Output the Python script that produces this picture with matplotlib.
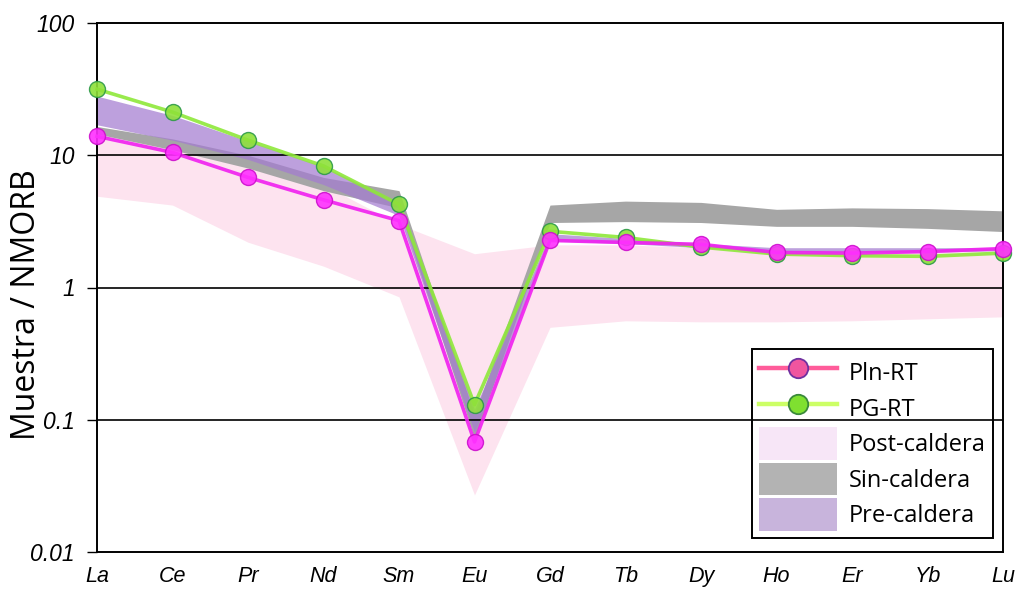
import matplotlib
matplotlib.use('Agg')
import matplotlib.pyplot as plt
import numpy as np
from matplotlib.lines import Line2D
from matplotlib.patches import Patch

# REE normalised to NMORB
elements = ['La', 'Ce', 'Pr', 'Nd', 'Sm', 'Eu', 'Gd', 'Tb', 'Dy', 'Ho', 'Er', 'Yb', 'Lu']

pln_rt = [13.9, 10.5, 6.8, 4.6, 3.2, 0.068, 2.27, 2.19, 2.12, 1.84, 1.82, 1.87, 1.97]
pg_rt = [31.6, 21.2, 13.0, 8.3, 4.25, 0.13, 2.66, 2.39, 2.02, 1.79, 1.74, 1.72, 1.82]

post_hi = [15.0, 11.5, 8.5, 6.0, 3.0, 1.8, 2.1, 2.1, 2.0, 1.85, 1.85, 1.9, 1.95]
post_lo = [4.9, 4.2, 2.2, 1.45, 0.85, 0.027, 0.5, 0.56, 0.55, 0.55, 0.56, 0.58, 0.6]

sin_hi = [16.5, 13.3, 10.0, 6.8, 5.4, 0.11, 4.2, 4.5, 4.4, 3.9, 4.0, 3.95, 3.8]
sin_lo = [14.5, 11.0, 8.0, 5.4, 4.0, 0.072, 3.1, 3.15, 3.1, 2.9, 2.9, 2.8, 2.65]

pre_hi = [28.0, 20.0, 12.8, 8.2, 4.4, 0.12, 2.55, 2.35, 2.15, 2.0, 2.0, 2.0, 2.0]
pre_lo = [17.0, 13.0, 9.3, 6.0, 3.5, 0.08, 2.25, 2.15, 2.0, 1.85, 1.85, 1.85, 1.9]

yticks = [0.01, 0.1, 1, 10, 100]
ytick_labels = ['0.01', '0.1', '1', '10', '100']

x = np.arange(len(elements))

fig = plt.figure(figsize=(10.24, 5.9), dpi=100)
ax = fig.add_axes([97 / 1024, 1 - 552 / 590, 906 / 1024, 529 / 590])
ax.set_yscale('log')
ax.set_xlim(0, 12)
ax.set_ylim(0.01, 100)

ax.fill_between(x, post_lo, post_hi, color='#fde3ef', lw=0, zorder=1)
ax.fill_between(x, sin_lo, sin_hi, color='#a6a6a6', lw=0, zorder=1.2)
ax.fill_between(x, pre_lo, pre_hi, color='#a47cd0', alpha=0.72, lw=0, zorder=1.4)

for v in [0.1, 1, 10]:
    ax.axhline(v, color='black', lw=1.2, zorder=3)

ax.plot(x, pg_rt, color='#8ee83a', lw=2.6, marker='o', ms=11.5,
        mfc='#8ee03a', mec='#2e9a48', mew=1.0, alpha=0.9, zorder=4, clip_on=False)
ax.plot(x, pln_rt, color='#f020f0', lw=2.6, marker='o', ms=11.5,
        mfc='#ff30ff', mec='#cc10cc', mew=1.0, alpha=0.9, zorder=5, clip_on=False)

ax.set_yticks(yticks)
ax.set_yticklabels(ytick_labels, fontstyle='italic', fontsize=16.5, family='Liberation Sans')
ax.yaxis.set_minor_locator(matplotlib.ticker.NullLocator())
ax.set_xticks(x)
ax.set_xticklabels(elements, fontstyle='italic', fontsize=15.5, family='Liberation Sans')
ax.tick_params(axis='x', length=0, pad=10)
ax.tick_params(axis='y', length=7, width=1, pad=9, direction='out')
for s in ax.spines.values():
    s.set_linewidth(1.4)

fig.text(27 / 1024, 1 - 305 / 590, 'Muestra / NMORB', rotation=90,
         ha='center', va='center', fontsize=23, family='Open Sans')

handles = [
    Line2D([], [], color='#ff5c9a', lw=3.2, marker='o', ms=14,
           mfc='#f0559f', mec='#7030a0', mew=1.3),
    Line2D([], [], color='#ccff66', lw=3.2, marker='o', ms=14,
           mfc='#7fe030', mec='#3a8a3a', mew=1.3),
    Patch(facecolor='#f7e6f7', edgecolor='none'),
    Patch(facecolor='#b3b3b3', edgecolor='none'),
    Patch(facecolor='#c8b4dc', edgecolor='none'),
]
labels = ['Pln-RT', 'PG-RT', 'Post-caldera', 'Sin-caldera', 'Pre-caldera']
leg = ax.legend(handles, labels, loc='lower right',
                bbox_to_anchor=(993 / 1024, 1 - 538 / 590), bbox_transform=fig.transFigure,
                borderaxespad=0, fancybox=False, framealpha=1, edgecolor='black',
                prop={'family': 'Open Sans', 'size': 17},
                handlelength=3.3, handleheight=1.75, handletextpad=0.5,
                labelspacing=0.12, borderpad=0.3)
leg.get_frame().set_linewidth(1.4)
leg.set_zorder(2.5)

fig.savefig('out.png', dpi=100)
